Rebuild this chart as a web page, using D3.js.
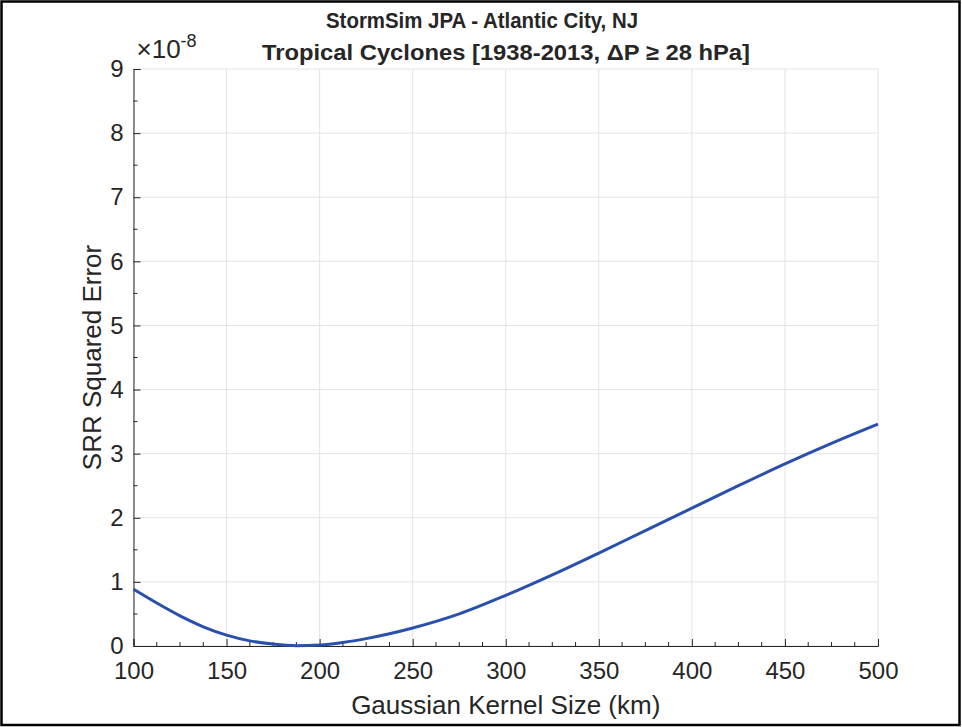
<!DOCTYPE html>
<html>
<head>
<meta charset="utf-8">
<script src="https://cdn.jsdelivr.net/npm/d3@7"></script>
<style>
  html, body { margin: 0; padding: 0; background: #fff; }
  svg { display: block; }
  text { font-family: "Liberation Sans", Arial, Helvetica, sans-serif; fill: #262626; }
</style>
</head>
<body>
<svg id="chart" width="962" height="727"></svg>
<script>
// ---- data ----
const kernelSize = [100, 112.5, 125, 137.5, 150, 162.5, 175, 187.5, 200, 212.5, 225, 237.5, 250, 275, 300, 325, 350, 375, 400, 425, 450, 475, 500];
const srrError   = [0.885, 0.67, 0.47, 0.30, 0.17, 0.08, 0.03, 0.005, 0.015, 0.055, 0.115, 0.19, 0.28, 0.50, 0.79, 1.11, 1.45, 1.80, 2.15, 2.50, 2.84, 3.16, 3.46]; // x 1e-8
const xTicks = [100, 150, 200, 250, 300, 350, 400, 450, 500];
const yTicks = [0, 1, 2, 3, 4, 5, 6, 7, 8, 9];
const titleLines = ["StormSim JPA - Atlantic City, NJ", "Tropical Cyclones [1938-2013, \u0394P \u2265 28 hPa]"];
const xLabel = "Gaussian Kernel Size (km)";
const yLabel = "SRR Squared Error";

const svg = d3.select("#chart");
const W = 962, H = 727;
const m = { left: 133.5, right: 878, top: 69, bottom: 646 };

// outer frame
svg.append("rect").attr("x", 1.5).attr("y", 1.5).attr("width", W - 4).attr("height", H - 3.5)
  .attr("fill", "#fff").attr("stroke", "#000").attr("stroke-width", 2.5);

const x = d3.scaleLinear().domain([100, 500]).range([m.left, m.right]);
const y = d3.scaleLinear().domain([0, 9]).range([m.bottom, m.top]);

// grid
const grid = svg.append("g").attr("stroke", "#e3e3e3").attr("stroke-width", 1);
xTicks.forEach(t => grid.append("line").attr("x1", x(t)).attr("x2", x(t)).attr("y1", m.top).attr("y2", m.bottom));
yTicks.forEach(t => grid.append("line").attr("x1", m.left).attr("x2", m.right).attr("y1", y(t)).attr("y2", y(t)));

// x axis (ticks inward)
const xAxis = d3.axisBottom(x).tickValues(xTicks).tickSize(-7).tickPadding(16).tickFormat(d3.format("d"));
const gx = svg.append("g").attr("transform", `translate(0,${m.bottom})`).call(xAxis);
gx.select(".domain").attr("stroke", "#262626");
gx.selectAll(".tick line").attr("stroke", "#262626");
gx.selectAll(".tick text").attr("font-size", 24).attr("fill", "#262626")
  .attr("font-family", "Liberation Sans, Arial, sans-serif").attr("dy", "0.71em");
const xMinor = d3.range(100, 500.01, 12.5).filter(v => v % 50 !== 0);
gx.selectAll(".minor").data(xMinor).enter().append("line")
  .attr("x1", d => x(d)).attr("x2", d => x(d)).attr("y1", 0).attr("y2", -4).attr("stroke", "#262626");

// y axis
const yAxis = d3.axisLeft(y).tickValues(yTicks).tickSize(-7).tickPadding(10).tickFormat(d3.format("d"));
const gy = svg.append("g").attr("transform", `translate(${m.left},0)`).call(yAxis);
gy.select(".domain").attr("stroke", "#262626");
gy.selectAll(".tick line").attr("stroke", "#262626");
gy.selectAll(".tick text").attr("font-size", 24).attr("fill", "#262626")
  .attr("font-family", "Liberation Sans, Arial, sans-serif");
const yMinor = d3.range(0.5, 9, 1);
gy.selectAll(".minor").data(yMinor).enter().append("line")
  .attr("x1", 0).attr("x2", 4).attr("y1", d => y(d)).attr("y2", d => y(d)).attr("stroke", "#262626");

// exponent label
const ex = svg.append("text").attr("x", m.left + 3).attr("y", 58).attr("font-size", 26);
ex.append("tspan").text("\u00d710");
ex.append("tspan").attr("font-size", 18).attr("dy", -11).text("-8");

// line
const line = d3.line().x((d, i) => x(kernelSize[i])).y(d => y(d)).curve(d3.curveMonotoneX);
svg.append("path").datum(srrError).attr("d", line)
  .attr("fill", "none").attr("stroke", "#2a50ac").attr("stroke-width", 3);

// titles
svg.append("text").attr("x", 482).attr("y", 28).attr("text-anchor", "middle")
  .attr("font-size", 22).attr("font-weight", "bold").attr("fill", "#000")
  .attr("textLength", 312).attr("lengthAdjust", "spacingAndGlyphs").text(titleLines[0]);
svg.append("text").attr("x", 506).attr("y", 60).attr("text-anchor", "middle")
  .attr("font-size", 22).attr("font-weight", "bold").attr("fill", "#000")
  .attr("textLength", 488).attr("lengthAdjust", "spacingAndGlyphs").text(titleLines[1]);

// axis labels
svg.append("text").attr("x", (m.left + m.right) / 2).attr("y", 714).attr("text-anchor", "middle")
  .attr("font-size", 26).text(xLabel);
svg.append("text").attr("transform", `translate(101,${(m.top + m.bottom) / 2}) rotate(-90)`)
  .attr("text-anchor", "middle").attr("font-size", 26).text(yLabel);
</script>
</body>
</html>
